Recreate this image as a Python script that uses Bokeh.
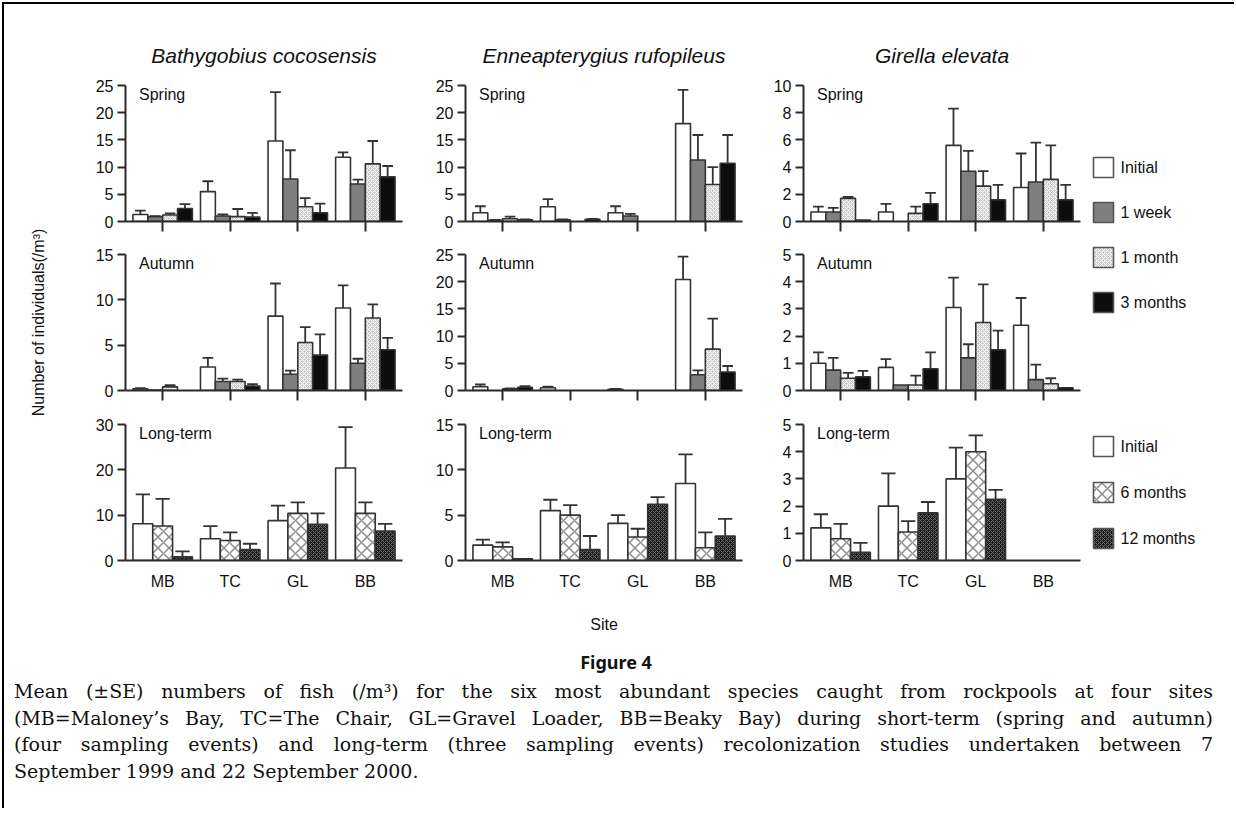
import math
from bokeh.plotting import figure
from bokeh.models import Range1d, FixedTicker, ColumnDataSource, Label, Div
from bokeh.layouts import row, column
from bokeh.transform import dodge
from bokeh.core.properties import value
from bokeh.embed import file_html
from bokeh.resources import INLINE

# ---------------- data ----------------
sites = ["MB", "TC", "GL", "BB"]
short_series = ["Initial", "1 week", "1 month", "3 months"]
long_series = ["Initial", "6 months", "12 months"]
species = ["Bathygobius cocosensis", "Enneapterygius rufopileus", "Girella elevata"]
seasons = ["Spring", "Autumn", "Long-term"]

# rows = series, columns = sites (MB, TC, GL, BB)
bc_spring_mean = [[1.3, 5.5, 14.8, 11.8], [0.9, 1.0, 7.8, 6.9], [1.2, 0.9, 2.7, 10.6], [2.4, 0.8, 1.6, 8.2]]
bc_spring_se = [[0.7, 1.9, 9.0, 0.9], [0.1, 0.3, 5.3, 0.8], [0.3, 1.4, 1.6, 4.2], [0.8, 0.8, 1.7, 2.0]]
bc_autumn_mean = [[0.2, 2.6, 8.2, 9.1], [0.05, 1.0, 1.8, 3.0], [0.4, 1.0, 5.3, 8.0], [0.0, 0.5, 3.9, 4.5]]
bc_autumn_se = [[0.05, 1.0, 3.6, 2.5], [0.0, 0.3, 0.4, 0.5], [0.2, 0.2, 1.7, 1.5], [0.0, 0.2, 2.3, 1.3]]
bc_long_mean = [[8.1, 4.8, 8.8, 20.4], [7.6, 4.4, 10.4, 10.4], [0.8, 2.4, 8.0, 6.5]]
bc_long_se = [[6.5, 2.8, 3.3, 9.0], [6.0, 1.8, 2.4, 2.4], [1.2, 1.3, 2.4, 1.6]]

er_spring_mean = [[1.6, 2.7, 1.6, 18.0], [0.2, 0.3, 1.0, 11.3], [0.5, 0.0, 0.0, 6.8], [0.3, 0.4, 0.0, 10.7]]
er_spring_se = [[1.2, 1.4, 1.2, 6.2], [0.1, 0.1, 0.4, 4.6], [0.4, 0.0, 0.0, 3.2], [0.1, 0.1, 0.0, 5.2]]
er_autumn_mean = [[0.7, 0.5, 0.2, 20.4], [0.0, 0.0, 0.0, 2.9], [0.3, 0.0, 0.0, 7.6], [0.6, 0.0, 0.0, 3.4]]
er_autumn_se = [[0.4, 0.2, 0.1, 4.2], [0.0, 0.0, 0.0, 0.8], [0.1, 0.0, 0.0, 5.6], [0.2, 0.0, 0.0, 1.1]]
er_long_mean = [[1.7, 5.5, 4.1, 8.5], [1.5, 5.0, 2.6, 1.4], [0.2, 1.2, 6.2, 2.7]]
er_long_se = [[0.6, 1.2, 0.9, 3.2], [0.5, 1.1, 0.9, 1.7], [0.0, 1.5, 0.8, 1.9]]

ge_spring_mean = [[0.7, 0.7, 5.6, 2.5], [0.7, 0.0, 3.7, 2.9], [1.7, 0.6, 2.6, 3.1], [0.1, 1.3, 1.6, 1.6]]
ge_spring_se = [[0.4, 0.6, 2.7, 2.5], [0.3, 0.0, 1.5, 2.9], [0.1, 0.5, 1.1, 2.5], [0.0, 0.8, 1.1, 1.1]]
ge_autumn_mean = [[1.0, 0.85, 3.05, 2.4], [0.75, 0.2, 1.2, 0.4], [0.45, 0.2, 2.5, 0.25], [0.5, 0.8, 1.5, 0.1]]
ge_autumn_se = [[0.4, 0.3, 1.1, 1.0], [0.45, 0.0, 0.5, 0.55], [0.2, 0.35, 1.4, 0.2], [0.22, 0.6, 0.7, 0.0]]
ge_long_mean = [[1.2, 2.0, 3.0, 0.0], [0.8, 1.05, 4.0, 0.0], [0.3, 1.75, 2.25, 0.0]]
ge_long_se = [[0.5, 1.2, 1.15, 0.0], [0.55, 0.4, 0.6, 0.0], [0.35, 0.4, 0.35, 0.0]]

y_max = [[25, 25, 10], [15, 25, 5], [30, 15, 5]]
y_step = [[5, 5, 2], [5, 5, 1], [10, 5, 1]]

y_label = "Number of individuals(/m³)"
x_label = "Site"
fig_label = "Figure 4"
caption_lines = [
    "Mean (±SE) numbers of fish (/m³) for the six most abundant species caught from rockpools at four sites",
    "(MB=Maloney’s Bay, TC=The Chair, GL=Gravel Loader, BB=Beaky Bay) during short-term (spring and autumn)",
    "(four sampling events) and long-term (three sampling events) recolonization studies undertaken between 7",
    "September 1999 and 22 September 2000.",
]

# ---------------- styling ----------------
FONT = "Liberation Sans"
AX = "#2a2a2a"
EDGE = "#333333"
STYLE = {
    "Initial": dict(fill_color="white"),
    "1 week": dict(fill_color="#7f7f7f"),
    "1 month": dict(fill_color="#cdcdcd", hatch_pattern="diagonal_cross", hatch_color="white",
                    hatch_scale=4, hatch_weight=1),
    "3 months": dict(fill_color="#0d0d0d"),
    "6 months": dict(fill_color="white", hatch_pattern="diagonal_cross", hatch_color="#8c8c8c",
                     hatch_scale=11, hatch_weight=1.5),
    "12 months": dict(fill_color="#1c1c1c", hatch_pattern="diagonal_cross", hatch_color="#6a6a6a",
                      hatch_scale=4, hatch_weight=1),
}

STRIP_W = 60
COL_LEFT = [61, 45, 45]
COL_RIGHT = [18, 16, 5]
ROW_TOP = [81, 17, 14]
ROW_BOTTOM = [16, 20, 80]
FRAME_W = 277
FRAME_H = 136
LEG_W = 149

panel_data = [
    [(bc_spring_mean, bc_spring_se, short_series), (er_spring_mean, er_spring_se, short_series),
     (ge_spring_mean, ge_spring_se, short_series)],
    [(bc_autumn_mean, bc_autumn_se, short_series), (er_autumn_mean, er_autumn_se, short_series),
     (ge_autumn_mean, ge_autumn_se, short_series)],
    [(bc_long_mean, bc_long_se, long_series), (er_long_mean, er_long_se, long_series),
     (ge_long_mean, ge_long_se, long_series)],
]

site_idx = list(range(len(sites)))


def make_panel(r, c):
    mean, se, series = panel_data[r][c]
    ymax = y_max[r][c]
    p = figure(frame_width=FRAME_W, frame_height=FRAME_H,
               x_range=Range1d(-0.55, 3.55), y_range=Range1d(0, ymax),
               output_backend="svg", toolbar_location=None,
               min_border_left=COL_LEFT[c], min_border_right=COL_RIGHT[c],
               min_border_top=ROW_TOP[r], min_border_bottom=ROW_BOTTOM[r],
               background_fill_color="white", border_fill_color="white",
               outline_line_color=None)
    p.xgrid.visible = False
    p.ygrid.visible = False

    n = len(series)
    bw = 0.88 / n
    cap = 0.36 * bw
    whiskers = []
    for k, name in enumerate(series):
        off = (k - (n - 1) / 2) * bw
        keep = [j for j in site_idx if mean[k][j] > 0]
        src = ColumnDataSource(dict(i=[site_idx[j] for j in keep],
                                    m=[mean[k][j] for j in keep]))
        p.vbar(x=dodge("i", off), top="m", bottom=0, width=bw, source=src,
               line_color=EDGE, line_width=1.6, **STYLE[name])
        keep_e = [j for j in site_idx if mean[k][j] > 0 and se[k][j] > 0]
        esrc = ColumnDataSource(dict(i=[site_idx[j] for j in keep_e],
                                     m=[mean[k][j] for j in keep_e],
                                     t=[mean[k][j] + se[k][j] for j in keep_e]))
        whiskers.append((off, esrc))
    for off, esrc in whiskers:
        p.segment(x0=dodge("i", off), y0="m", x1=dodge("i", off), y1="t", source=esrc,
                  line_color=EDGE, line_width=1.8)
        p.segment(x0=dodge("i", off - cap), y0="t", x1=dodge("i", off + cap), y1="t",
                  source=esrc, line_color=EDGE, line_width=1.8)

    ya = p.yaxis[0]
    ya.ticker = FixedTicker(ticks=list(range(0, ymax + 1, y_step[r][c])))
    ya.minor_tick_line_color = None
    ya.major_tick_out = 8
    ya.major_tick_in = 0
    ya.major_tick_line_width = 2
    ya.major_tick_line_color = AX
    ya.axis_line_width = 2
    ya.axis_line_color = AX
    ya.major_label_standoff = 4
    ya.major_label_text_font = FONT
    ya.major_label_text_font_size = "16px"
    ya.major_label_text_color = "#111111"

    xa = p.xaxis[0]
    xa.ticker = FixedTicker(ticks=site_idx)
    xa.minor_tick_line_color = None
    xa.axis_line_width = 2
    xa.axis_line_color = AX
    xa.major_tick_line_width = 2
    xa.major_tick_line_color = AX
    xa.major_tick_in = 0
    xa.major_label_text_font = FONT
    xa.major_label_text_color = "#111111"
    if r < 2:
        xa.major_tick_out = 10
        xa.major_label_overrides = {i: "" for i in site_idx}
        xa.major_label_text_font_size = "1px"
        xa.major_label_standoff = 0
    else:
        xa.major_tick_out = 0
        xa.major_label_overrides = {i: s for i, s in zip(site_idx, sites)}
        xa.major_label_text_font_size = "16px"
        xa.major_label_standoff = 12

    p.add_layout(Label(x=-0.35, y=ymax, y_offset=-9, text=seasons[r], text_baseline="middle",
                       text_font=FONT, text_font_size="16px", text_color="#111111"))

    if r == 0:
        p.title.text = species[c]
        p.title.align = "center"
        p.title.text_font = FONT
        p.title.text_font_size = "21px"
        p.title.text_font_style = "italic"
        p.title.text_color = "#111111"
        p.title.standoff = 38
    if r == 2 and c == 1:
        xa.axis_label = x_label
        xa.axis_label_standoff = 23
        xa.axis_label_text_font = FONT
        xa.axis_label_text_font_size = "16px"
        xa.axis_label_text_font_style = "normal"
        xa.axis_label_text_color = "#111111"
    return p


panels = [[make_panel(r, c) for c in range(3)] for r in range(3)]
GRID_H = sum(ROW_TOP) + sum(ROW_BOTTOM) + 3 * FRAME_H

# ---------------- y-axis title strip ----------------
strip = figure(width=STRIP_W, height=GRID_H, x_range=Range1d(0, STRIP_W), y_range=Range1d(GRID_H, 0),
               output_backend="svg", toolbar_location=None, min_border=0,
               x_axis_location=None, y_axis_location=None, outline_line_color=None,
               background_fill_color="white", border_fill_color="white")
strip.grid.visible = False
mid_y = sum(ROW_TOP[:2]) + ROW_BOTTOM[0] + 1.5 * FRAME_H
strip.text(x=34, y=mid_y, text=[y_label], angle=math.pi / 2, text_align="center",
           text_baseline="middle", text_font=value(FONT), text_font_size="16px",
           text_color="#111111")

# ---------------- legend ----------------
lg = figure(width=LEG_W, height=GRID_H, x_range=Range1d(0, LEG_W), y_range=Range1d(GRID_H, 0),
            output_backend="svg", toolbar_location=None, min_border=0,
            x_axis_location=None, y_axis_location=None, outline_line_color=None,
            background_fill_color="white", border_fill_color="white")
lg.grid.visible = False
for group, y0, pitch in ((short_series, 163, 45), (long_series, 442, 46)):
    for k, name in enumerate(group):
        yc = y0 + k * pitch
        lg.rect(x=18, y=yc, width=20, height=20, width_units="screen", height_units="screen",
                line_color="#555555", line_width=1.6, **STYLE[name])
        lg.text(x=35, y=yc, text=[name], text_baseline="middle", text_align="left",
                text_font=value(FONT), text_font_size="16px", text_color="#111111")

# ---------------- caption ----------------
TOTAL_W = STRIP_W + sum(COL_LEFT) + sum(COL_RIGHT) + 3 * FRAME_W + LEG_W
just = "text-align:justify;text-align-last:justify;white-space:nowrap;"
line_divs = "".join(
    f'<div style="{just if i < len(caption_lines) - 1 else "text-align:left;"}">{t}</div>'
    for i, t in enumerate(caption_lines))
caption_html = (
    f'<div style="position:relative;width:{TOTAL_W}px;height:168px;color:#111;">'
    f'<div style="position:absolute;top:10px;left:0;width:1224px;text-align:center;'
    "font-family:'Noto Sans';font-weight:bold;font-size:18px;line-height:24px;\">"
    f"{fig_label}</div>"
    '<div style="position:absolute;top:38px;left:10px;width:1199px;'
    "font-family:'DejaVu Serif';font-size:19px;line-height:26.5px;\">"
    f"{line_divs}</div></div>"
)
cap_div = Div(text=caption_html, width=TOTAL_W, height=168, margin=0)

cols = [column(*[panels[r][c] for r in range(3)], spacing=0) for c in range(3)]
root = column(row(strip, *cols, lg, spacing=0), cap_div, spacing=0,
              styles={"border-left": "2px solid #000", "border-top": "2px solid #000",
                      "margin-left": "2px", "margin-top": "2px"})

open("out.html", "w").write(file_html(root, INLINE, title="Figure 4"))
